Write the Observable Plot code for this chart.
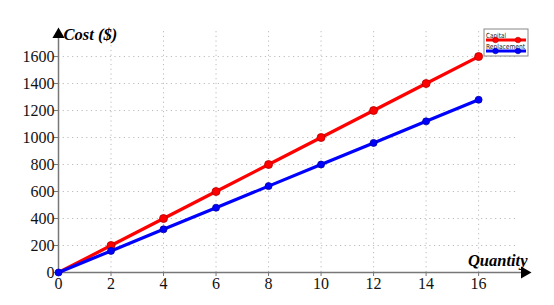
<!DOCTYPE html>
<html><head><meta charset="utf-8">
<script src="https://cdn.jsdelivr.net/npm/d3@7"></script>
<script src="https://cdn.jsdelivr.net/npm/@observablehq/plot@0.6"></script>
<style>body{margin:0;background:#fff}</style>
</head><body><div id="chart"></div>
<script>
const quantity = [0, 2, 4, 6, 8, 10, 12, 14, 16];
const capital = [0, 200, 400, 600, 800, 1000, 1200, 1400, 1600];
const replacement = [0, 160, 320, 480, 640, 800, 960, 1120, 1280];
const xTicks = [0, 2, 4, 6, 8, 10, 12, 14, 16];
const yTicks = [0, 200, 400, 600, 800, 1000, 1200, 1400, 1600];
const seriesNames = ["Capital", "Replacement"];
const seriesColors = ["#ff0000", "#0000ff"];

const capData = quantity.map((q, i) => ({q, v: capital[i]}));
const repData = quantity.map((q, i) => ({q, v: replacement[i]}));
const xMax = 17.9, yMax = 1793;
const serif = "'Liberation Serif', 'Times New Roman', serif";

const plot = Plot.plot({
  width: 554, height: 305,
  marginLeft: 58, marginRight: 26, marginTop: 30, marginBottom: 33,
  x: {domain: [0, xMax]},
  y: {domain: [0, yMax]},
  style: {fontFamily: serif, fontSize: "16px", background: "white", color: "black"},
  marks: [
    Plot.ruleY(yTicks.slice(1), {x1: 0, x2: 17.5, stroke: "#bbb", strokeDasharray: "1.2,3.5"}),
    Plot.ruleX(xTicks.slice(1), {y1: 0, y2: yMax, stroke: "#bbb", strokeDasharray: "1.2,3.5"}),
    Plot.axisX({ticks: xTicks, tickFormat: d => String(d), tickSize: 4, tickPadding: 1, fontSize: 16, fontFamily: serif, label: null, stroke: "#777", fill: "#111"}),
    Plot.axisY({ticks: yTicks, tickFormat: d => String(d), tickSize: 4, tickPadding: 0, fontSize: 16, fontFamily: serif, label: null, stroke: "#777", fill: "#111"}),
    Plot.ruleY([0], {x1: 0, x2: xMax - 0.25, stroke: "#777", strokeWidth: 1.5}),
    Plot.ruleX([0], {y1: 0, y2: yMax - 40, stroke: "#777", strokeWidth: 1.5}),
    Plot.dot([{x: xMax}], {x: "x", y: 0, symbol: "triangle", rotate: 90, r: 4.5, fill: "black", stroke: "none", dx: -4}),
    Plot.dot([{y: yMax}], {x: 0, y: "y", symbol: "triangle", r: 4.5, fill: "black", stroke: "none", dy: 4}),
    Plot.line(capData, {x: "q", y: "v", stroke: seriesColors[0], strokeWidth: 3.2}),
    Plot.dot(capData.slice(1), {x: "q", y: "v", r: 4, fill: seriesColors[0], stroke: "#b00000", strokeWidth: 0.8}),
    Plot.line(repData, {x: "q", y: "v", stroke: seriesColors[1], strokeWidth: 3.2}),
    Plot.dot(repData, {x: "q", y: "v", r: 3.5, fill: seriesColors[1], stroke: "#0000a0", strokeWidth: 0.8}),
    Plot.text(["Cost ($)"], {x: 0, y: yMax, text: d => d, textAnchor: "start", dx: 5, dy: 4, fontWeight: "bold", fontStyle: "italic", fontSize: 16.5, fontFamily: serif}),
    Plot.text(["Quantity"], {x: xMax, y: 0, text: d => d, textAnchor: "end", dx: -1, dy: -12, fontWeight: "bold", fontStyle: "italic", fontSize: 16.5, fontFamily: serif})
  ]
});
document.getElementById("chart").appendChild(plot);

// Legend
const svg = d3.select(plot);
const lg = svg.append("g").attr("transform", "translate(484,29)");
lg.append("rect").attr("width", 44).attr("height", 27).attr("fill", "white").attr("stroke", "#888").attr("stroke-width", 1);
seriesNames.forEach((name, i) => {
  const y0 = 8.5 + i * 11;
  lg.append("text").attr("x", 2).attr("y", y0).attr("text-anchor", "start")
    .attr("font-family", "'DejaVu Sans', sans-serif").attr("font-size", 7).attr("fill", "#222")
    .attr("textLength", i === 0 ? 20 : 39).attr("lengthAdjust", "spacingAndGlyphs").text(name);
  lg.append("line").attr("x1", 2).attr("x2", 42).attr("y1", y0 + 2.5).attr("y2", y0 + 2.5).attr("stroke", seriesColors[i]).attr("stroke-width", 3);
  [11.5, 34].forEach(cx => lg.append("circle").attr("cx", cx).attr("cy", y0 + 2.5).attr("r", 2.8).attr("fill", seriesColors[i]).attr("stroke", i === 0 ? "#b00000" : "#0000a0").attr("stroke-width", 0.6));
});
</script>
</body></html>
